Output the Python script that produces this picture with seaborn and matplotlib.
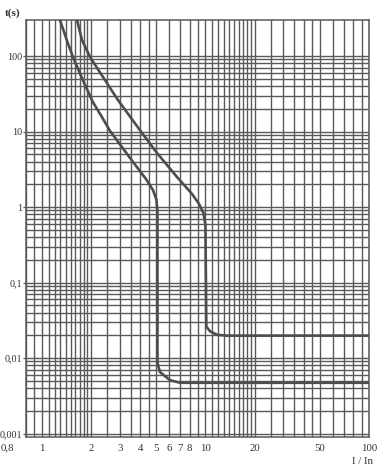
import numpy as np
import pandas as pd
import seaborn as sns
import matplotlib.pyplot as plt
from matplotlib.ticker import FixedLocator, NullFormatter

# trip curve values (I/In, t in s)
curve_a_i = [1.29, 1.42, 1.55, 1.78, 2.05, 2.30, 2.61, 3.46, 4.33, 4.78, 5.02, 5.09, 5.09, 5.28, 6.07, 6.99, 100]
curve_a_t = [300, 163, 97, 48.1, 24.6, 16.3, 10.2, 4.46, 2.35, 1.68, 1.24, 0.86, 0.0086, 0.0065, 0.0051, 0.0047, 0.0047]
curve_b_i = [1.64, 1.76, 1.97, 2.43, 2.92, 3.97, 5.06, 6.70, 8.28, 9.14, 9.73, 10.0, 10.13, 10.7, 11.8, 13.5, 100]
curve_b_t = [300, 163, 97, 48.1, 26.1, 10.5, 5.19, 2.50, 1.49, 1.10, 0.83, 0.58, 0.026, 0.0225, 0.0203, 0.0198, 0.0198]

x_ticks = [1, 2, 3, 4, 5, 6, 7, 8, 10, 20, 50, 100]
x_labels = ['1', '2', '3', '4', '5', '6', '7', '8', '10', '20', '50', '100']
y_ticks = [100, 10, 1, 0.1, 0.01, 0.001]
y_labels = ['100', '10', '1', '0,1', '0,01', '0,001']

df = pd.concat([
    pd.DataFrame({'I': curve_a_i, 't': curve_a_t, 'curve': 'a'}),
    pd.DataFrame({'I': curve_b_i, 't': curve_b_t, 'curve': 'b'}),
])

sns.set_style('white')
plt.rcParams['font.family'] = ['Liberation Serif', 'DejaVu Serif']

fig = plt.figure(figsize=(3.79, 4.72), dpi=100)
ax = fig.add_axes([26 / 379, 1 - 437 / 472, 343 / 379, 417 / 472])

grid_col = '#595959'
ax.set_xscale('log')
ax.set_yscale('log')
ax.set_xlim(0.8, 100)
ax.set_ylim(0.0009, 300)

# grid like the printed chart paper
xg = np.concatenate([np.arange(0.8, 2.0, 0.1), np.arange(2.0, 5.0, 0.5),
                     np.arange(5, 20, 1), np.arange(20, 50, 5), np.arange(50, 101, 10)])
yg = np.concatenate([np.arange(1, 10) * 10.0 ** k for k in range(-3, 2)] + [[100]])
for x in xg:
    ax.axvline(x, color=grid_col, lw=1.0, zorder=1)
for y in yg:
    ax.axhline(y, color=grid_col, lw=1.0, zorder=1)

sns.lineplot(data=df, x='I', y='t', units='curve', estimator=None, sort=False,
             color='#4d4d4d', lw=1.9, ax=ax, zorder=3)

ax.xaxis.set_major_locator(FixedLocator(x_ticks))
ax.set_xticklabels(x_labels)
ax.xaxis.set_minor_formatter(NullFormatter())
ax.yaxis.set_major_locator(FixedLocator(y_ticks))
ax.set_yticklabels(y_labels)
ax.yaxis.set_minor_locator(FixedLocator([]))
ax.xaxis.set_minor_locator(FixedLocator([]))
ax.tick_params(axis='x', length=0, pad=5, labelsize=7.8, colors='#333333')
ax.tick_params(axis='y', left=True, length=2.5, width=0.9, color=grid_col, pad=0.5,
               labelsize=7.3, labelcolor='#333333')

ax.annotate('0,8', xy=(0.8, 0), xycoords=('data', 'axes fraction'), xytext=(-19, -11),
            textcoords='offset pixels', ha='center', va='center', fontsize=7.8, color='#333333')

for s in ax.spines.values():
    s.set_color(grid_col)
    s.set_linewidth(1.1)

ax.set_xlabel('')
ax.set_ylabel('')
fig.text(5 / 379, 1 - 13 / 472, 't(s)', fontsize=8, fontweight='bold', color='#333333', va='center')
fig.text(362 / 379, 1 - 461 / 472, 'I / In', fontsize=7.8, color='#333333', ha='center', va='center')

fig.savefig('out.png', dpi=100)
